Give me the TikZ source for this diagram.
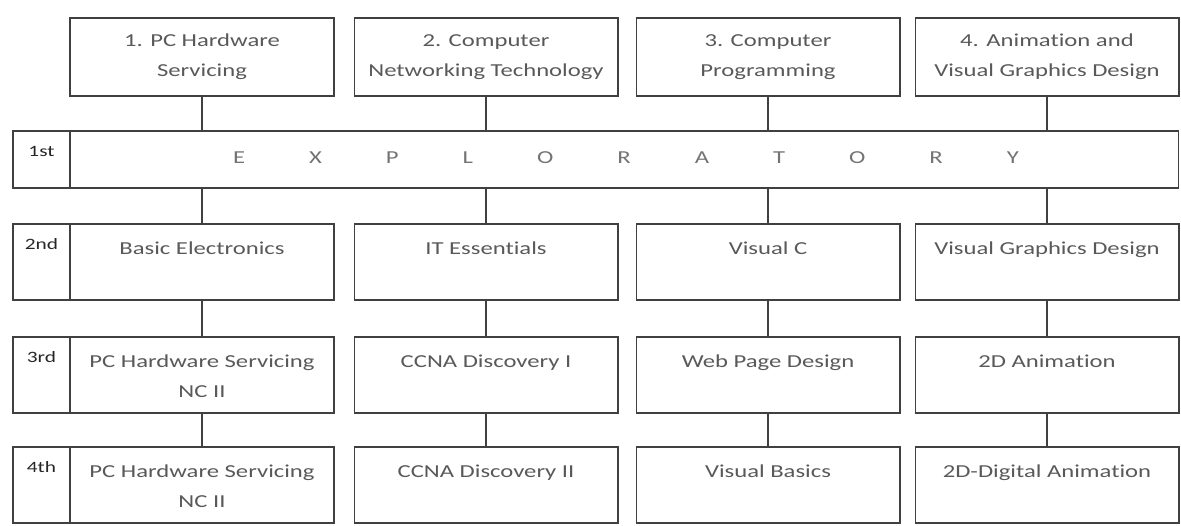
\documentclass[tikz,border=0pt]{standalone}
\usepackage{fontspec}
\setmainfont{Carlito}[FakeStretch=1.35, Ligatures=NoCommon]

\begin{document}
\begin{tikzpicture}[x=0.02cm, y=-0.02cm,
    linea/.style={draw=black!75, line width=0.6pt},
    caja/.style={linea, inner sep=0pt, outer sep=0pt, text=black!65, align=center,
        font=\fontsize{10.4}{17}\selectfont, minimum width=5.28cm},
    curso/.style={caja, minimum height=1.56cm},
    materia/.style={caja, minimum height=1.52cm, text height=0.6cm, text depth=0.92cm},
    materiados/.style={caja, minimum height=1.52cm, text height=1.2cm, text depth=0.32cm},
    nivel/.style={linea, inner sep=0pt, outer sep=0pt, minimum width=1.14cm,
        text=black!85, font=\fontsize{9}{10}\selectfont, text height=0.5cm}]
    \useasboundingbox (0,0) rectangle (1181,525);

    % Cajas superiores
    \node[curso] (c1) at (202,57) {1. PC Hardware\\Servicing};
    \node[curso] (c2) at (486,57) {2. Computer\\Networking Technology};
    \node[curso] (c3) at (768,57) {3. Computer\\Programming};
    \node[curso] (c4) at (1047,57) {4. Animation and\\Visual Graphics Design};

    % 1st
    \node[nivel, minimum height=1.14cm, text depth=0.64cm] (n1) at (41.5,159.5) {1st};
    \node[linea, inner sep=0pt, outer sep=0pt, minimum width=22.18cm, minimum height=1.14cm] (a1) at (624.5,159.5) {};
    \node[anchor=base, text=black!55, font=\fontsize{10.4}{17}\selectfont] (ex) at (626,163) {\spaceskip=1.28cm E X P L O R A T O R Y};

    % 2nd
    \node[nivel, minimum height=1.52cm, text depth=1.02cm] (n2) at (41.5,262) {2nd};
    \node[materia] (b1) at (202,262) {Basic Electronics};
    \node[materia] (b2) at (486,262) {IT Essentials};
    \node[materia] (b3) at (768,262) {Visual C};
    \node[materia] (b4) at (1047,262) {Visual Graphics Design};

    % 3rd
    \node[nivel, minimum height=1.52cm, text depth=1.02cm] (n3) at (41.5,375) {3rd};
    \node[materiados] (d1) at (202,375) {PC Hardware Servicing\\NC II};
    \node[materia] (d2) at (486,375) {CCNA Discovery I};
    \node[materia] (d3) at (768,375) {Web Page Design};
    \node[materia] (d4) at (1047,375) {2D Animation};

    % 4th
    \node[nivel, minimum height=1.52cm, text depth=1.02cm] (n4) at (41.5,485) {4th};
    \node[materiados] (e1) at (202,485) {PC Hardware Servicing\\NC II};
    \node[materia] (e2) at (486,485) {CCNA Discovery II};
    \node[materia] (e3) at (768,485) {Visual Basics};
    \node[materia] (e4) at (1047,485) {2D-Digital Animation};

    % Líneas
    \draw[linea] (c1) -- (c1 |- a1.north) (b1 |- a1.south) -- (b1) (b1) -- (d1) (d1) -- (e1);
    \draw[linea] (c2) -- (c2 |- a1.north) (b2 |- a1.south) -- (b2) (b2) -- (d2) (d2) -- (e2);
    \draw[linea] (c3) -- (c3 |- a1.north) (b3 |- a1.south) -- (b3) (b3) -- (d3) (d3) -- (e3);
    \draw[linea] (c4) -- (c4 |- a1.north) (b4 |- a1.south) -- (b4) (b4) -- (d4) (d4) -- (e4);
\end{tikzpicture}
\end{document}
